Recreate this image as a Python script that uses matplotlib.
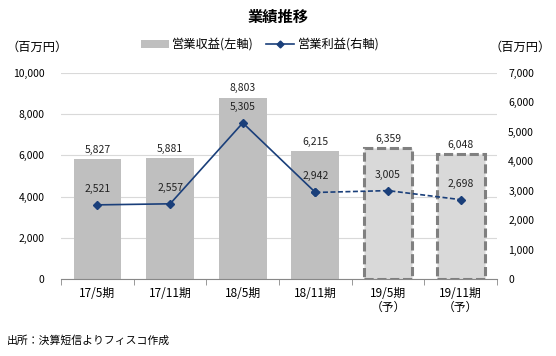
import matplotlib
matplotlib.use("Agg")
import matplotlib.pyplot as plt
from matplotlib.patches import Patch
from matplotlib.lines import Line2D

plt.rcParams['font.family'] = ['Noto Sans CJK JP', 'DejaVu Sans']

periods = ["17/5期", "17/11期", "18/5期", "18/11期", "19/5期\n（予）", "19/11期\n（予）"]
revenue = [5827, 5881, 8803, 6215, 6359, 6048]
profit = [2521, 2557, 5305, 2942, 3005, 2698]
n_actual = 4

bar_gray = "#bfbfbf"
fcst_gray = "#d9d9d9"
navy = "#1a3f7a"

fig = plt.figure(figsize=(5.56, 3.56), dpi=100)
ax = fig.add_axes([0.110, 0.216, 0.784, 0.579])
ax2 = ax.twinx()

x = list(range(len(periods)))
for i in x:
    if i < n_actual:
        ax.bar(i, revenue[i], width=0.66, color=bar_gray, zorder=2)
    else:
        ax.bar(i, revenue[i], width=0.66, facecolor=fcst_gray, edgecolor="#808080",
               linestyle=(0, (3, 1.2)), linewidth=2.2, zorder=2)
    ax.annotate(f"{revenue[i]:,}", (i, revenue[i]), xytext=(0, 3), textcoords="offset points",
                ha="center", va="bottom", fontsize=7.5, color="#222222")

ax.set_ylim(0, 10000)
ax.set_yticks(range(0, 10001, 2000))
ax.set_yticklabels([f"{v:,}" for v in range(0, 10001, 2000)])
ax.set_xlim(-0.5, len(periods) - 0.5)
ax.set_xticks(x)
ax.set_xticklabels(periods, fontsize=8.5, linespacing=1.0)
ax.set_xticks([i + 0.5 for i in range(-1, len(periods))], minor=True)
ax.tick_params(axis="x", which="major", length=0, pad=6)
ax.tick_params(axis="x", which="minor", length=4, color="#888888")
ax.tick_params(axis="y", length=0, labelsize=7.5, pad=12)
ax.grid(axis="y", color="#d9d9d9", linewidth=0.8, zorder=0)
ax.set_axisbelow(True)
for s in ["top", "right", "left"]:
    ax.spines[s].set_visible(False)
ax.spines["bottom"].set_color("#888888")

ax2.plot(x[:n_actual], profit[:n_actual], color=navy, linewidth=1.2, marker="D", markersize=4.5, zorder=3)
ax2.plot(x[n_actual - 1:], profit[n_actual - 1:], color=navy, linewidth=1.2, linestyle=(0, (3, 1.5)),
         marker="D", markersize=4.5, zorder=3)
for i in x:
    ax2.annotate(f"{profit[i]:,}", (i, profit[i]), xytext=(0, 8), textcoords="offset points",
                 ha="center", va="bottom", fontsize=7.5, color="#222222")
ax2.set_ylim(0, 7000)
ax2.set_yticks(range(0, 7001, 1000))
ax2.set_yticklabels([f"{v:,}" for v in range(0, 7001, 1000)])
ax2.tick_params(axis="y", length=0, labelsize=7.5, pad=8)
for s in ["top", "right", "left", "bottom"]:
    ax2.spines[s].set_visible(False)

fig.text(0.5, 0.952, "業績推移", ha="center", va="center", fontsize=11, fontweight="bold")
fig.text(0.012, 0.868, "（百万円）", ha="left", va="center", fontsize=8.8)
fig.text(0.990, 0.868, "（百万円）", ha="right", va="center", fontsize=8.8)
fig.text(0.012, 0.045, "出所：決算短信よりフィスコ作成", ha="left", va="center", fontsize=7.8)

handles = [Patch(facecolor=bar_gray, edgecolor="none"),
           Line2D([0], [0], color=navy, linewidth=1.2, marker="D", markersize=3.5)]
fig.legend(handles, ["営業収益(左軸)", "営業利益(右軸)"], loc="center", bbox_to_anchor=(0.468, 0.875),
           ncol=2, frameon=False, fontsize=8.8, handlelength=2.3, handleheight=0.6, columnspacing=1.0,
           handletextpad=0.3)

fig.savefig("out.png", dpi=100)
